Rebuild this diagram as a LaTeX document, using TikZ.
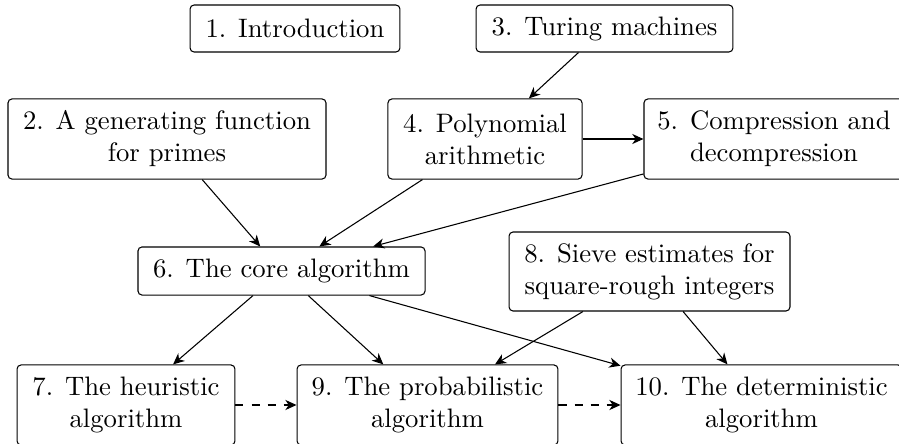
\documentclass[tikz,border=0pt]{standalone}
\usetikzlibrary{arrows.meta}
\begin{document}
\begin{tikzpicture}[x=0.3745pt,y=-0.3745pt,
  box/.style={draw, rounded corners=1.5pt, align=center, inner sep=0pt, line width=0.4pt},
  one/.style={box, minimum height=17.6pt},
  two/.style={box, minimum height=30pt},
  arr/.style={-{Stealth[length=4.2pt,width=3.8pt,inset=1.3pt]}, line width=0.4pt},
  darr/.style={arr, dashed}
]
\useasboundingbox (0,0) rectangle (899,443);
\node[one, minimum width=78.6pt] (n1) at (295,28.5) {1. Introduction};
\node[one, minimum width=96.2pt] (n3) at (604.5,28.5) {3. Turing machines};
\node[two, minimum width=119.1pt] (n2) at (167,139) {2. A generating function\\for primes};
\node[two, minimum width=72.7pt] (n4) at (485,139) {4. Polynomial\\arithmetic};
\node[two, minimum width=97.4pt] (n5) at (774,139) {5. Compression and\\decompression};
\node[one, minimum width=107.5pt, minimum height=18pt] (n6) at (281.5,271) {6. The core algorithm};
\node[two, minimum width=105.2pt, minimum height=29.6pt] (n8) at (649.5,271.5) {8. Sieve estimates for\\square-rough integers};
\node[two, minimum width=81.6pt] (n7) at (126,405) {7. The heuristic\\algorithm};
\node[two, minimum width=97.7pt] (n9) at (427.5,405) {9. The probabilistic\\algorithm};
\node[two, minimum width=105.2pt] (n10) at (761.5,405) {10. The deterministic\\algorithm};

\draw[arr] (n3) -- (n4);
\draw[arr] (n4) -- (n5);
\draw[arr] (n2) -- (n6);
\draw[arr] (n4) -- (n6);
\draw[arr] (n5) -- (n6);
\draw[arr] (n6) -- (n7);
\draw[arr] (n6) -- (n9);
\draw[arr] (n6) -- (n10);
\draw[arr] (n8) -- (n9);
\draw[arr] (n8) -- (n10);
\draw[darr] (n7) -- (n9);
\draw[darr] (n9) -- (n10);
\end{tikzpicture}
\end{document}
